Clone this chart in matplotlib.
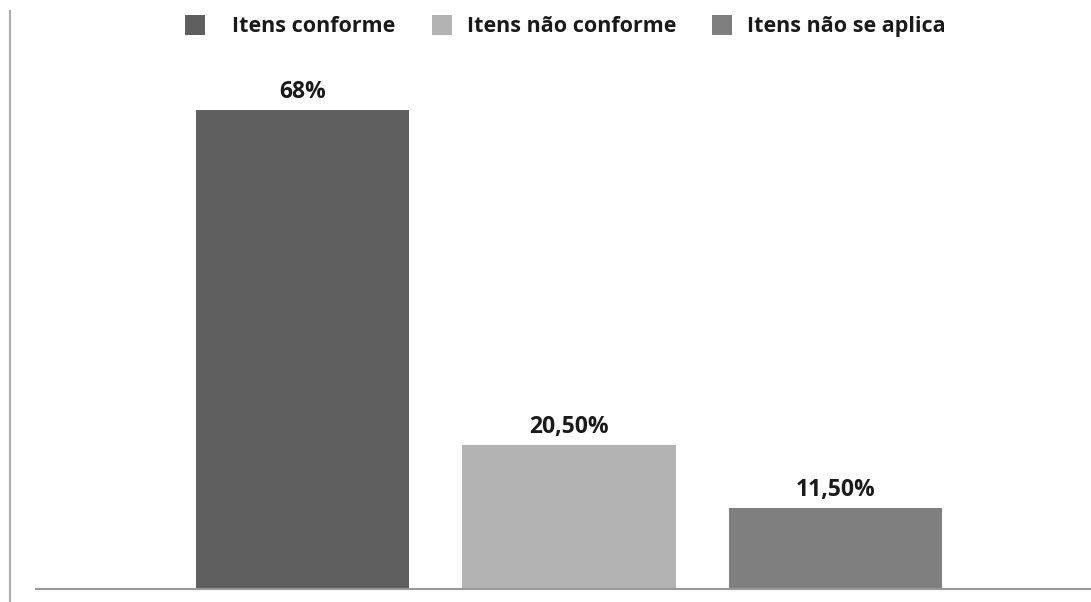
import matplotlib
matplotlib.use("Agg")
import matplotlib.pyplot as plt
from matplotlib.patches import Rectangle
from matplotlib.lines import Line2D

categories = ["Itens conforme", "Itens não conforme", "Itens não se aplica"]
values = [68, 20.5, 11.5]
labels = ["68%", "20,50%", "11,50%"]
colors = ["#5f5f5f", "#b3b3b3", "#7f7f7f"]

plt.rcParams['font.family'] = ['Open Sans', 'DejaVu Sans']

W, H = 1091, 602
fig = plt.figure(figsize=(W/100, H/100), dpi=100)
left, right, bottom, top = 36, 1091, 589, 50
ax = fig.add_axes([left/W, 1-bottom/H, (right-left)/W, (bottom-top)/H])
x = list(range(len(categories)))
ax.bar(x, values, width=0.8, color=colors)
ax.set_xlim(-1.0, 2.959)
ax.set_ylim(0, 76.5)
for xi, v, lab in zip(x, values, labels):
    ax.text(xi, v + 1.7, lab, ha='center', va='baseline', fontsize=16.5, fontweight='bold', color='#1a1a1a')
for s in ['top', 'right', 'left']:
    ax.spines[s].set_visible(False)
ax.spines['bottom'].set_color('#999999')
ax.spines['bottom'].set_linewidth(1.5)
ax.set_xticks([])
ax.set_yticks([])

fig.add_artist(Line2D([10/W, 10/W], [0, 1-11/H], color='#aaaaaa', lw=1.5))

# legend drawn manually
sq_x = [185, 432, 712]
txt_x = [232, 467, 747]
for sx, tx, c, name in zip(sq_x, txt_x, colors, categories):
    fig.add_artist(Rectangle((sx/W, 1-35/H), 20/W, 20/H, facecolor=c, edgecolor='none',
                             transform=fig.transFigure))
    fig.text(tx/W, 1-32/H, name, ha='left', va='baseline', fontsize=15.5, fontweight='bold', color='#1a1a1a')

fig.savefig("out.png", dpi=100)
